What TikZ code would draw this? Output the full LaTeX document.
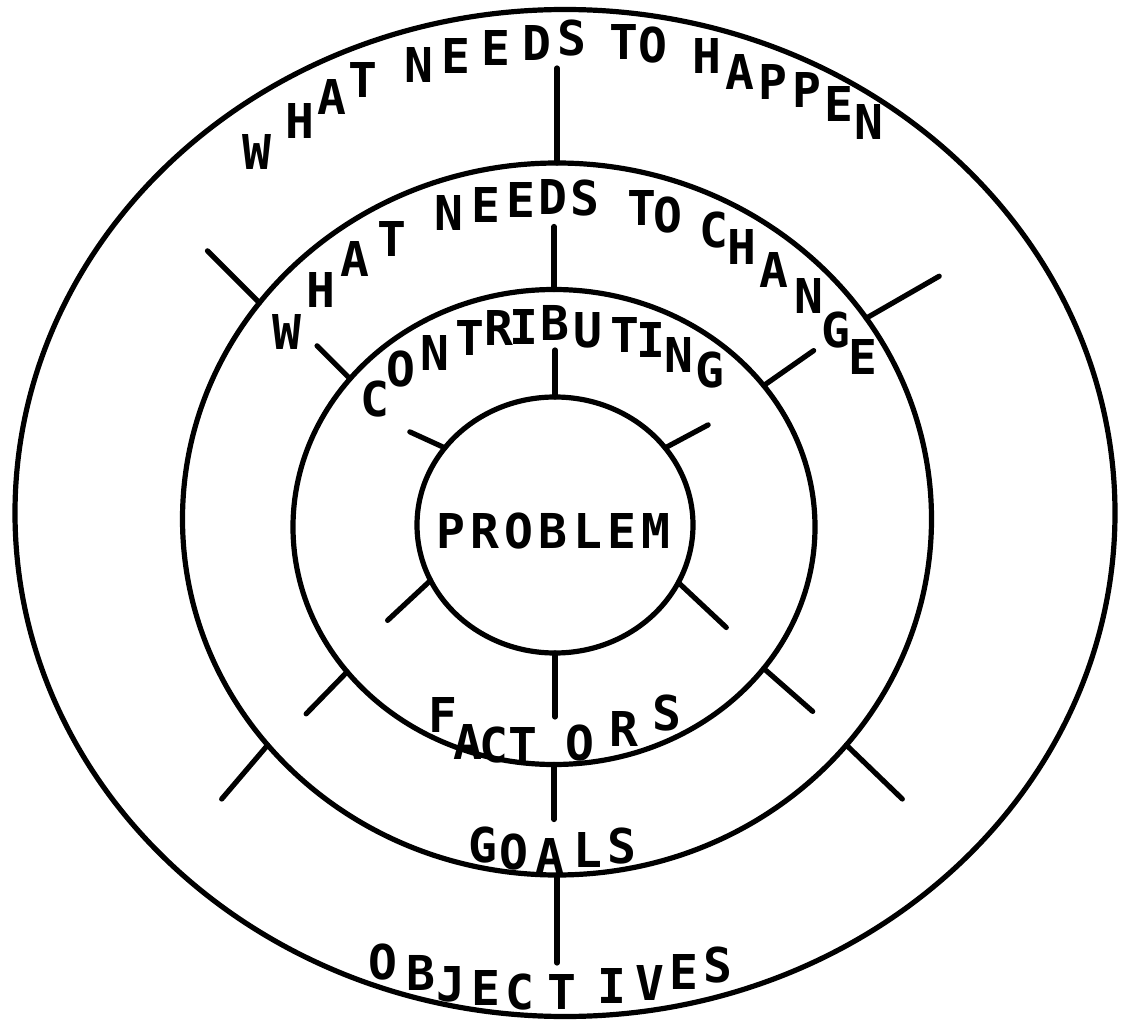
\documentclass[tikz,border=0pt]{standalone}
\usepackage{fontspec}
\usepackage{tikz}
\usetikzlibrary{shapes.geometric}
\newfontfamily\dotfont{DejaVu Sans Mono}
\newlength\pxu
\setlength\pxu{0.5pt}

\begin{document}
\begin{tikzpicture}[
    x=0.5pt, y=-0.5pt,
    ring/.style={draw, ellipse, line width=2.6pt, inner sep=0pt, outer sep=0pt},
    spoke/.style={line width=2.6pt, line cap=round},
    lettr/.style={font={\dotfont\bfseries\fontsize{24}{26}\selectfont}, inner sep=0pt}
]
\useasboundingbox (0,0) rectangle (1125,1027);

\node[ring, minimum width=1100\pxu, minimum height=1007\pxu] (objring) at (565,513) {};
\node[ring, minimum width=749\pxu, minimum height=712\pxu] (goalring) at (557,519) {};
\node[ring, minimum width=522\pxu, minimum height=475\pxu] (factring) at (554,527) {};
\node[ring, minimum width=276\pxu, minimum height=256\pxu] (probring) at (555,525) {};

\draw[spoke] (goalring.north) -- ++(0,-95);
\draw[spoke] (factring.north) -- ++(0,-63);
\draw[spoke] (probring.north) -- ++(0,-47);
\draw[spoke] (probring.south) -- ++(0,64);
\draw[spoke] (factring.south) -- ++(0,55);
\draw[spoke] (goalring.south) -- ++(0,88);

\draw[spoke] (goalring.144) -- ++(-52,-52);
\draw[spoke] (goalring.33) -- ++(73,-42);
\draw[spoke] (goalring.218) -- ++(-46,54);
\draw[spoke] (goalring.322) -- ++(56,54);
\draw[spoke] (factring.144) -- ++(-33,-33);
\draw[spoke] (factring.34) -- ++(50,-35);
\draw[spoke] (factring.215) -- ++(-41,42);
\draw[spoke] (factring.326) -- ++(49,43);
\draw[spoke] (probring.145) -- ++(-35,-16);
\draw[spoke] (probring.35) -- ++(43,-23);
\draw[spoke] (probring.204) -- ++(-43,40);
\draw[spoke] (probring.335) -- ++(48,45);

\foreach \ch/\x/\y [count=\i] in {W/257/152, H/300/121, A/332/97, T/363/80,
    N/419/65, E/456/56, E/496/48, D/537/43, S/572/38, T/624/42, O/653/45,
    H/707/56, A/740/72, P/773/82, P/807/90, E/839/104, N/869/122}
  \node[lettr] (happen\i) at (\x,\y) {\ch};

\foreach \ch/\x/\y [count=\i] in {W/287/332, H/321/290, A/355/259, T/392/239,
    N/449/213, E/486/205, E/521/200, D/553/197, S/585/198, T/642/208, O/668/215,
    C/714/230, H/742/247, A/774/270, N/809/296, G/836/330, E/863/357}
  \node[lettr] (change\i) at (\x,\y) {\ch};

\foreach \ch/\x/\y [count=\i] in {C/375/399, O/401/369, N/435/353, T/470/338,
    R/499/328, I/524/327, B/555/323, U/588/330, T/625/335, I/651/340,
    N/679/355, G/710/370}
  \node[lettr] (contrib\i) at (\x,\y) {\ch};

\foreach \ch/\x [count=\i] in {P/451, R/485, O/519, B/553, L/588, E/622, M/656}
  \node[lettr] (problem\i) at (\x,531) {\ch};

\foreach \ch/\x/\y [count=\i] in {F/443/715, A/468/742, C/494/745, T/523/745,
    O/580/743, R/624/729, S/667/713}
  \node[lettr] (factors\i) at (\x,\y) {\ch};

\foreach \ch/\x/\y [count=\i] in {G/483/845, O/514/852, A/550/856, L/588/850, S/622/846}
  \node[lettr] (goals\i) at (\x,\y) {\ch};

\foreach \ch/\x/\y [count=\i] in {O/383/962, B/421/973, J/451/984, E/486/988,
    C/520/992, T/562/992, I/612/986, V/650/983, E/684/972, S/718/965}
  \node[lettr] (objectives\i) at (\x,\y) {\ch};
\end{tikzpicture}
\end{document}
